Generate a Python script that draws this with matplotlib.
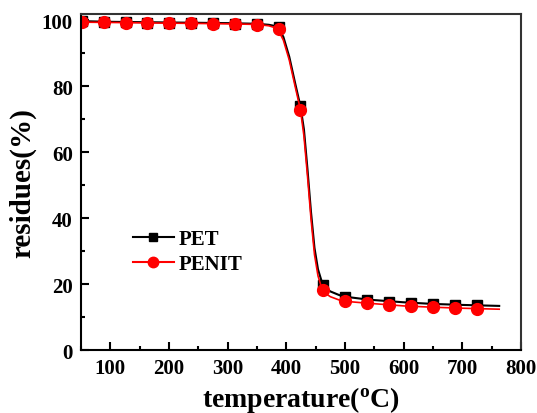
import numpy as np
import matplotlib
matplotlib.use('Agg')
import matplotlib.pyplot as plt
from matplotlib.ticker import MultipleLocator

plt.rcParams['font.family'] = 'Liberation Serif'
plt.rcParams['font.weight'] = 'bold'
plt.rcParams['mathtext.fontset'] = 'custom'
plt.rcParams['mathtext.rm'] = 'Liberation Serif:bold'
plt.rcParams['mathtext.bf'] = 'Liberation Serif:bold'

# ---- data ----
# smooth TGA curves
curve_T = [50, 100, 200, 300, 350, 370, 385, 395, 405, 415, 424, 430, 436,
           442, 448, 454, 460, 466, 475, 490, 500, 540, 600, 650, 700, 763]
curve_pet = [99.8, 99.6, 99.4, 99.2, 99.0, 98.7, 98.2, 95.0, 89.0, 81.0, 74.0,
             67.0, 55.0, 42.0, 31.0, 24.5, 21.0, 19.0, 17.8, 16.7, 16.2, 15.3,
             14.5, 14.0, 13.7, 13.4]
curve_penit = [99.5, 99.4, 99.2, 99.0, 98.8, 98.4, 97.6, 94.0, 88.0, 80.0, 73.0,
               65.0, 53.0, 40.0, 29.0, 22.5, 19.0, 17.3, 16.2, 15.2, 14.8, 14.2,
               13.4, 13.0, 12.7, 12.4]

# symbols
mark_T = [52, 89, 126, 163, 200, 238, 275, 312, 350, 387, 424, 462, 500, 538,
          575, 612, 650, 688, 725]
mark_pet = [99.7, 99.5, 99.4, 99.3, 99.2, 99.2, 99.1, 99.0, 98.9, 98.0, 74.0,
            19.8, 16.0, 15.2, 14.7, 14.3, 14.0, 13.7, 13.6]
mark_penit = [99.5, 99.4, 99.3, 99.2, 99.1, 99.1, 99.0, 98.9, 98.7, 97.3, 72.8,
              18.3, 14.9, 14.3, 13.8, 13.3, 13.0, 12.8, 12.6]

fig = plt.figure(figsize=(5.37, 4.14), dpi=100)
ax = fig.add_axes([0.151, 0.152, 0.819, 0.812])

ax.plot(curve_T, curve_pet, color='black', lw=1.5)
ax.plot(mark_T, mark_pet, ls='none', marker='s', ms=7, color='black')
ax.plot(curve_T, curve_penit, color='red', lw=1.2)
ax.plot(mark_T, mark_penit, ls='none', marker='o', ms=8.5, color='red')

# legend proxies (line through symbol)
ax.plot([], [], color='black', lw=1.5, marker='s', ms=6, label='PET')
ax.plot([], [], color='red', lw=1.5, marker='o', ms=7.5, label='PENIT')
ax.legend(loc='center left', bbox_to_anchor=(0.117, 0.293), frameon=False,
          fontsize=15, handlelength=2.0, handletextpad=0.2, borderpad=0,
          borderaxespad=0, labelspacing=0.22)

ax.set_xlim(50, 800)
ax.set_ylim(0, 102)
ax.xaxis.set_major_locator(MultipleLocator(100))
ax.xaxis.set_minor_locator(MultipleLocator(50))
ax.yaxis.set_major_locator(MultipleLocator(20))
ax.yaxis.set_minor_locator(MultipleLocator(10))
ax.tick_params(which='both', direction='in', top=False, right=False,
               labelsize=15, width=1.5)
ax.tick_params(which='major', length=6, pad=6)
ax.tick_params(which='minor', length=3)
for s in ax.spines.values():
    s.set_linewidth(1.5)
ax.spines['top'].set_color('#333333')
ax.spines['right'].set_color('#333333')

ax.set_xlabel(r'temperature($\mathregular{^{o}}$C)', fontsize=20, fontweight='bold', labelpad=4)
ax.set_ylabel('residues(%)', fontsize=21, fontweight='bold', labelpad=4)

fig.savefig('out.png', dpi=100)
